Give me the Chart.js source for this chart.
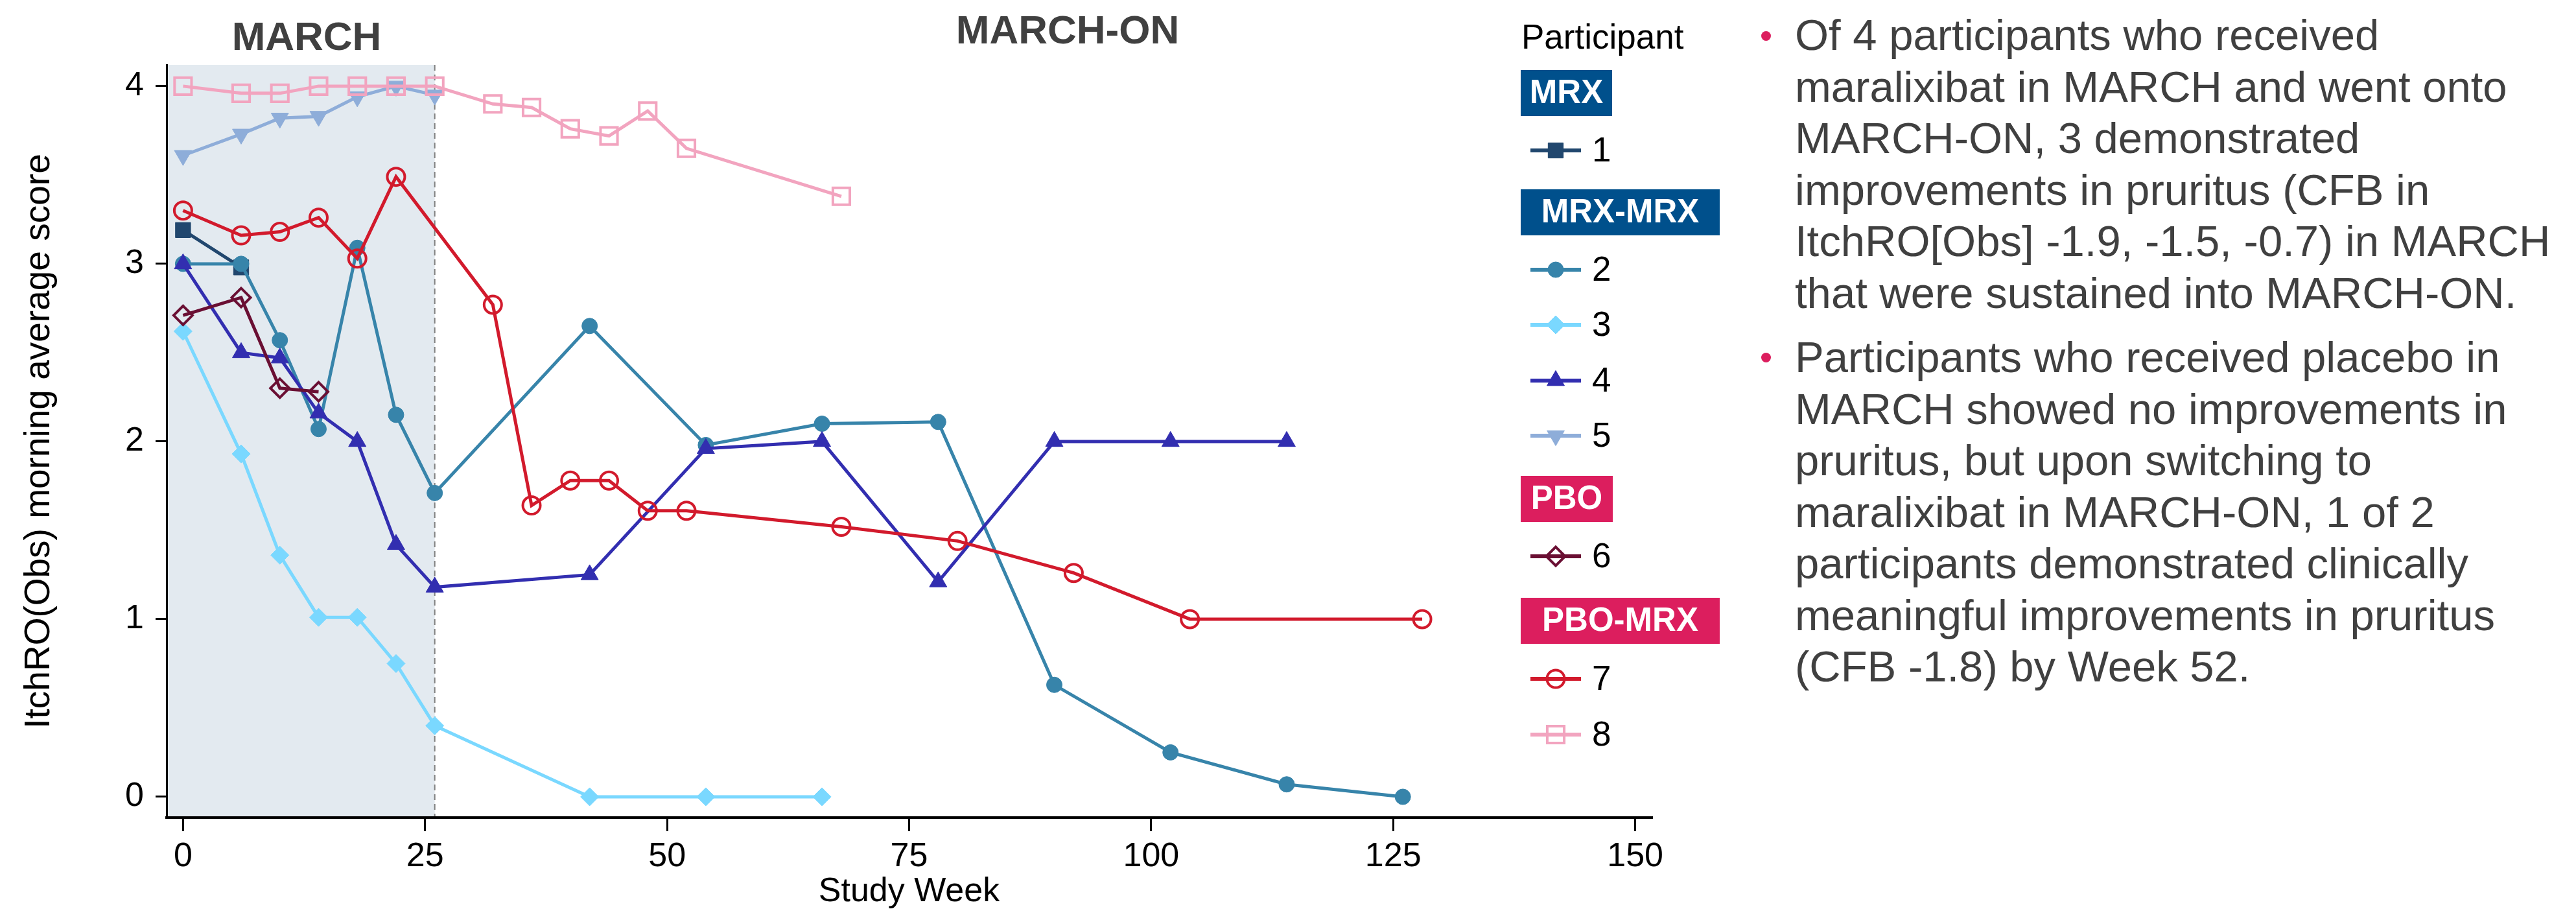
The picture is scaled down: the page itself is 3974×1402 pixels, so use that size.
<!DOCTYPE html>
<html>
<head>
<meta charset="utf-8">
<script src="https://cdn.jsdelivr.net/npm/chart.js@4.4.1/dist/chart.umd.min.js"></script>
<style>
  html, body { margin: 0; padding: 0; background: #fff; }
  body { width: 3974px; height: 1402px; position: relative; overflow: hidden; font-family: "Liberation Sans", Arial, sans-serif; }
  #wrap { position: absolute; left: 0; top: 0; width: 2700px; height: 1402px; }
  .notes { position: absolute; left: 2769px; color: #404040; font-size: 67px; line-height: 79.5px; white-space: nowrap; }
  .dot { position: absolute; left: 2717px; width: 15px; height: 15px; border-radius: 50%; background: #DC1E5E; }
</style>
</head>
<body>
<div id="wrap"><canvas id="chart" width="2700" height="1402"></canvas></div>

<span class="dot" style="top:48px"></span>
<div class="notes" style="top:14px">Of 4 participants who received<br>maralixibat in MARCH and went onto<br>MARCH-ON, 3 demonstrated<br>improvements in pruritus (CFB in<br>ItchRO[Obs] -1.9, -1.5, -0.7) in MARCH<br>that were sustained into MARCH-ON.</div>
<span class="dot" style="top:544px"></span>
<div class="notes" style="top:511px">Participants who received placebo in<br>MARCH showed no improvements in<br>pruritus, but upon switching to<br>maralixibat in MARCH-ON, 1 of 2<br>participants demonstrated clinically<br>meaningful improvements in pruritus<br>(CFB -1.8) by Week 52.</div>

<script>
// weeks and ItchRO(Obs) scores per participant
const weeks1 = [0, 6];
const p1 = [3.19, 2.98];
const weeks2 = [0, 6, 10, 14, 18, 22, 26, 42, 54, 66, 78, 90, 102, 114, 126];
const p2 = [3.0, 3.0, 2.57, 2.07, 3.09, 2.15, 1.71, 2.65, 1.98, 2.1, 2.11, 0.63, 0.25, 0.07, 0.0];
const weeks3 = [0, 6, 10, 14, 18, 22, 26, 42, 54, 66];
const p3 = [2.62, 1.93, 1.36, 1.01, 1.01, 0.75, 0.4, 0, 0, 0];
const weeks4 = [0, 6, 10, 14, 18, 22, 26, 42, 54, 66, 78, 90, 102, 114];
const p4 = [3.0, 2.5, 2.47, 2.16, 2.0, 1.42, 1.18, 1.25, 1.96, 2.0, 1.21, 2.0, 2.0, 2.0];
const weeks5 = [0, 6, 10, 14, 18, 22, 26];
const p5 = [3.61, 3.73, 3.82, 3.83, 3.94, 4.0, 3.95];
const weeks6 = [0, 6, 10, 14];
const p6 = [2.71, 2.81, 2.3, 2.28];
const weeks7 = [0, 6, 10, 14, 18, 22, 32, 36, 40, 44, 48, 52, 68, 80, 92, 104, 128];
const p7 = [3.3, 3.16, 3.18, 3.26, 3.03, 3.49, 2.77, 1.64, 1.78, 1.78, 1.61, 1.61, 1.52, 1.44, 1.26, 1.0, 1.0];
const weeks8 = [0, 6, 10, 14, 18, 22, 26, 32, 36, 40, 44, 48, 52, 68];
const p8 = [4.0, 3.96, 3.96, 4.0, 4.0, 4.0, 4.0, 3.9, 3.88, 3.76, 3.72, 3.86, 3.65, 3.38];

const participants = ['1', '2', '3', '4', '5', '6', '7', '8'];
const groups = ['MRX', 'MRX-MRX', 'PBO', 'PBO-MRX'];
const groupMembers = [[0], [1, 2, 3, 4], [5], [6, 7]];
const xTicks = [0, 25, 50, 75, 100, 125, 150];
const yTicks = [0, 1, 2, 3, 4];
const marchEnd = 26;

const allWeeks = [weeks1, weeks2, weeks3, weeks4, weeks5, weeks6, weeks7, weeks8];
const allScores = [p1, p2, p3, p4, p5, p6, p7, p8];

const FONT = '"Liberation Sans", Arial, sans-serif';
Chart.defaults.font.family = FONT;
Chart.defaults.color = '#000';

const styles = [
  { color: '#21476E', pointStyle: 'rect', radius: 16.5, hollow: false, rotation: 0 },
  { color: '#3784AA', pointStyle: 'circle', radius: 12, hollow: false, rotation: 0 },
  { color: '#7AD8FF', pointStyle: 'rectRot', radius: 14, hollow: false, rotation: 0 },
  { color: '#322EB0', pointStyle: 'triangle', radius: 15.5, hollow: false, rotation: 0 },
  { color: '#8EADD9', pointStyle: 'triangle', radius: 15.5, hollow: false, rotation: 180 },
  { color: '#6A0F33', pointStyle: 'rectRot', radius: 14.5, hollow: true, rotation: 0 },
  { color: '#D21A2C', pointStyle: 'circle', radius: 13.5, hollow: true, rotation: 0 },
  { color: '#F2A4BF', pointStyle: 'rect', radius: 18.5, hollow: true, rotation: 0 }
];
const groupColors = ['#00508C', '#00508C', '#DC1E5E', '#DC1E5E'];

const datasets = participants.map((name, i) => {
  const s = styles[i];
  return {
    label: name,
    data: allWeeks[i].map((w, j) => ({ x: w, y: allScores[i][j] })),
    showLine: true,
    borderColor: s.color,
    borderWidth: 5,
    tension: 0,
    pointStyle: s.pointStyle,
    pointRadius: s.radius,
    pointRotation: s.rotation,
    pointBackgroundColor: s.hollow ? 'rgba(255,255,255,0)' : s.color,
    pointBorderColor: s.color,
    pointBorderWidth: s.hollow ? 4 : 1,
    order: participants.length - i
  };
});

// shaded MARCH period and dashed divider
const phasePlugin = {
  id: 'phases',
  beforeDraw(chart) {
    const { ctx, chartArea, scales } = chart;
    const xEnd = scales.x.getPixelForValue(marchEnd);
    ctx.save();
    ctx.fillStyle = '#E3EAF0';
    ctx.fillRect(chartArea.left, chartArea.top, xEnd - chartArea.left, chartArea.bottom - chartArea.top);
    ctx.strokeStyle = '#808080';
    ctx.lineWidth = 2;
    ctx.setLineDash([9, 6]);
    ctx.beginPath();
    ctx.moveTo(xEnd, chartArea.top);
    ctx.lineTo(xEnd, chartArea.bottom);
    ctx.stroke();
    ctx.restore();
  },
  afterDraw(chart) {
    const ctx = chart.ctx;
    ctx.save();
    ctx.fillStyle = '#404040';
    ctx.font = 'bold 62px ' + FONT;
    ctx.textAlign = 'center';
    ctx.textBaseline = 'alphabetic';
    ctx.fillText('MARCH', 473, 77);
    ctx.fillText('MARCH-ON', 1647, 67);
    ctx.restore();
  }
};

function drawMarker(ctx, s, x, y) {
  ctx.fillStyle = s.hollow ? 'rgba(255,255,255,0)' : s.color;
  ctx.strokeStyle = s.color;
  ctx.lineWidth = s.hollow ? 4 : 1;
  const opts = { pointStyle: s.pointStyle, rotation: s.rotation, radius: s.radius, borderWidth: s.hollow ? 4 : 1 };
  if (Chart.helpers && Chart.helpers.drawPoint) {
    Chart.helpers.drawPoint(ctx, opts, x, y);
  }
}

// grouped legend on the right of the plot
const legendPlugin = {
  id: 'groupLegend',
  afterDraw(chart) {
    const ctx = chart.ctx;
    const boxLeft = 2346;
    const boxTops = [108, 292, 734, 922];
    const boxWidths = [141, 307, 142, 307];
    const itemY = [232, 416, 501, 587, 672, 858, 1047, 1133];
    ctx.save();
    ctx.fillStyle = '#000';
    ctx.font = '53px ' + FONT;
    ctx.textBaseline = 'alphabetic';
    ctx.fillText('Participant', 2347, 75);

    groups.forEach((g, gi) => {
      ctx.fillStyle = groupColors[gi];
      ctx.fillRect(boxLeft, boxTops[gi], boxWidths[gi], 71);
      ctx.fillStyle = '#fff';
      ctx.font = 'bold 51px ' + FONT;
      ctx.textAlign = 'center';
      ctx.textBaseline = 'middle';
      ctx.fillText(g, boxLeft + boxWidths[gi] / 2, boxTops[gi] + 37);
      groupMembers[gi].forEach(i => {
        const s = styles[i];
        const y = itemY[i];
        ctx.strokeStyle = s.color;
        ctx.lineWidth = 6;
        ctx.setLineDash([]);
        ctx.beginPath();
        ctx.moveTo(2361, y);
        ctx.lineTo(2439, y);
        ctx.stroke();
        drawMarker(ctx, s, 2400, y);
        ctx.fillStyle = '#000';
        ctx.font = '53px ' + FONT;
        ctx.textAlign = 'left';
        ctx.textBaseline = 'middle';
        ctx.fillText(participants[i], 2456, y + 2);
      });
    });
    ctx.restore();
  }
};

new Chart(document.getElementById('chart').getContext('2d'), {
  type: 'scatter',
  data: { datasets },
  plugins: [phasePlugin, legendPlugin],
  options: {
    responsive: false,
    animation: false,
    events: [],
    layout: { padding: { left: 0, top: 100, right: 152, bottom: 0 } },
    plugins: { legend: { display: false }, tooltip: { enabled: false } },
    scales: {
      x: {
        type: 'linear',
        min: -1.7,
        max: 151.7,
        afterBuildTicks: scale => { scale.ticks = xTicks.map(v => ({ value: v })); },
        afterFit: scale => { scale.height = 141; },
        border: { display: true, color: '#000', width: 4 },
        grid: { display: true, drawOnChartArea: false, drawTicks: true, tickLength: 21, color: '#000', lineWidth: 3 },
        ticks: { font: { size: 52 }, color: '#000', padding: 8, maxRotation: 0 },
        title: { display: true, text: 'Study Week', font: { size: 52, lineHeight: 1 }, color: '#000', padding: { top: 0, bottom: 0 } }
      },
      y: {
        type: 'linear',
        min: -0.117,
        max: 4.12,
        afterBuildTicks: scale => { scale.ticks = yTicks.map(v => ({ value: v })); },
        afterFit: scale => { scale.width = 257; },
        border: { display: true, color: '#000', width: 3 },
        grid: { display: true, drawOnChartArea: false, drawTicks: true, tickLength: 17, color: '#000', lineWidth: 3 },
        ticks: { font: { size: 52 }, color: '#000', padding: 18 },
        title: { display: true, text: 'ItchRO(Obs) morning average score', font: { size: 55, lineHeight: 1.2 }, color: '#000', padding: { top: 28, bottom: 0 } }
      }
    }
  }
});
</script>
</body>
</html>
